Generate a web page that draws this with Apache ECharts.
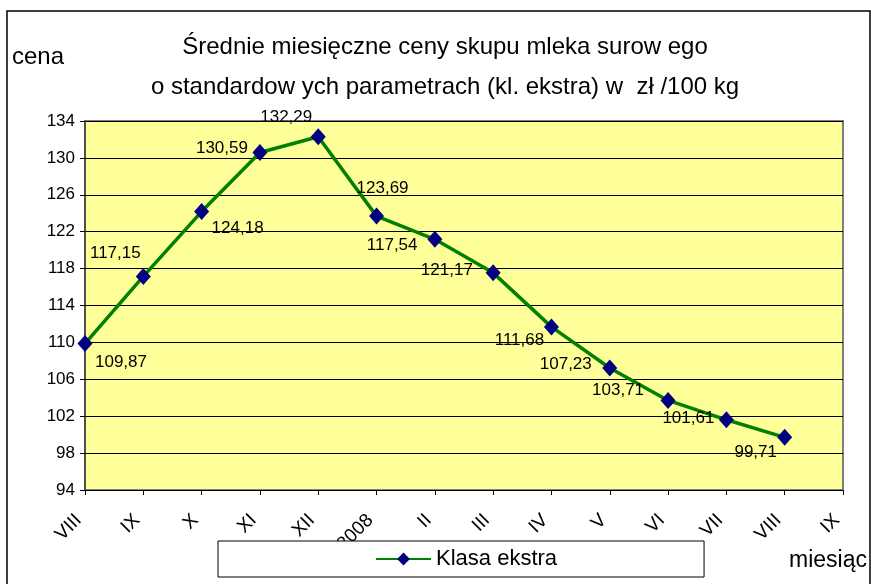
<!DOCTYPE html>
<html>
<head>
<meta charset="utf-8">
<script src="https://cdn.jsdelivr.net/npm/echarts@6/dist/echarts.min.js"></script>
<style>
html,body{margin:0;padding:0;background:#fff;}
#chart{width:871px;height:584px;}
</style>
</head>
<body>
<div id="chart"></div>
<script>
// ---- data ----
var categories = ['VIII','IX','X','XI','XII','2008','II','III','IV','V','VI','VII','VIII','IX'];
var seriesName = 'Klasa ekstra';
var values = [109.87, 117.15, 124.18, 130.59, 132.29, 123.69, 121.17, 117.54, 111.68, 107.23, 103.71, 101.61, 99.71];
var titleLines = ['Średnie miesięczne ceny skupu mleka surow ego', 'o standardow ych parametrach (kl. ekstra) w  zł /100 kg'];
var yAxisName = 'cena';
var xAxisName = 'miesiąc';
var yMin = 94, yMax = 134, yStep = 4;
// label offsets (layout only)
var labelOffsets = [[36,19],[-28,-23],[36,17],[-38,-4],[-32,-19],[6,-28],[12,31],[-101,-28],[-32,13],[-44,-4],[-50,-10],[-38,-1],[-29,15]];

var FONT = "'Liberation Sans', Arial, sans-serif";
var chart = echarts.init(document.getElementById('chart'), null, {renderer:'canvas'});

var seriesData = values.map(function(v, i){
  return {value: v, label: {offset: labelOffsets[i]}};
});

chart.setOption({
  animation: false,
  backgroundColor: '#ffffff',
  title: {
    text: titleLines.join('\n'),
    left: 440,
    top: 22,
    textAlign: 'center',
    textStyle: {fontFamily: FONT, fontSize: 24, fontWeight: 'normal', color: '#000', lineHeight: 40}
  },
  legend: {
    data: [seriesName],
    left: 218,
    top: 541,
    itemWidth: 55,
    itemHeight: 16,
    itemGap: 5,
    padding: [7, 147, 7, 157],
    backgroundColor: '#ffffff',
    borderColor: '#000000',
    borderWidth: 1,
    borderRadius: 0,
    textStyle: {fontFamily: FONT, fontSize: 22, color: '#000'}
  },
  graphic: [
    {type:'rect', shape:{x:7, y:11, width:863, height:620}, style:{fill:'none', stroke:'#000', lineWidth:1.5}, z:100, silent:true},
    {type:'text', left: 12, top: 45, style:{text: yAxisName, font: '24px ' + FONT, fill:'#000'}},
    {type:'text', left: 789, top: 549, style:{text: xAxisName, font: '23px ' + FONT, fill:'#000'}}
  ],
  grid: {
    left: 85, right: 28, top: 121, bottom: 94,
    show: true,
    backgroundColor: '#FFFF99',
    borderColor: '#808080',
    borderWidth: 2
  },
  xAxis: {
    type: 'category',
    data: categories,
    boundaryGap: false,
    axisLine: {lineStyle: {color: '#000', width: 1}},
    axisTick: {show: true, length: 5, lineStyle: {color: '#000'}},
    axisLabel: {rotate: 45, margin: 21, padding: [0, 9, 0, 0], fontFamily: FONT, fontSize: 19, color: '#000', interval: 0},
    splitLine: {show: false}
  },
  yAxis: {
    type: 'value',
    min: yMin, max: yMax, interval: yStep,
    axisLine: {show: true, lineStyle: {color: '#404040', width: 1.5}},
    axisTick: {show: true, length: 5, lineStyle: {color: '#000'}},
    axisLabel: {margin: 10, fontFamily: FONT, fontSize: 17, color: '#000'},
    splitLine: {show: true, lineStyle: {color: '#000', width: 1}}
  },
  series: [{
    name: seriesName,
    type: 'line',
    data: seriesData,
    symbol: 'diamond',
    symbolSize: [15, 17],
    itemStyle: {color: '#000080'},
    lineStyle: {color: '#008000', width: 3.5},
    label: {
      show: true,
      position: 'inside',
      fontFamily: FONT,
      fontSize: 17,
      color: '#000',
      formatter: function(p){ return p.value.toFixed(2).replace('.', ','); }
    },
    z: 3
  }]
});
</script>
</body>
</html>
